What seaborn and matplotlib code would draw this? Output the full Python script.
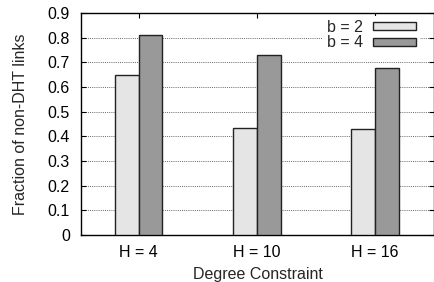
import matplotlib
matplotlib.use("Agg")
import matplotlib.pyplot as plt
import seaborn as sns
import pandas as pd

categories = ["H = 4", "H = 10", "H = 16"]
series_names = ["b = 2", "b = 4"]
b2_values = [0.65, 0.435, 0.43]
b4_values = [0.81, 0.73, 0.675]
yticks = [0, 0.1, 0.2, 0.3, 0.4, 0.5, 0.6, 0.7, 0.8, 0.9]
ytick_labels = ["0", "0.1", "0.2", "0.3", "0.4", "0.5", "0.6", "0.7", "0.8", "0.9"]

df = pd.DataFrame({
    "cat": categories * 2,
    "series": [series_names[0]] * 3 + [series_names[1]] * 3,
    "value": b2_values + b4_values,
})

sns.set_style("white")
plt.rcParams["font.family"] = ["Liberation Sans", "DejaVu Sans"]

FS = 11.5

fig = plt.figure(figsize=(4.35, 2.82), dpi=100)
ax = fig.add_axes([81 / 435, 1 - 235 / 282, (434 - 81) / 435, (235 - 13) / 282])

sns.barplot(data=df, x="cat", y="value", hue="series", order=categories,
            hue_order=series_names, palette=["#e5e5e5", "#999999"],
            width=0.4, edgecolor="#222222", linewidth=1.0, saturation=1,
            ax=ax, zorder=3)

ax.set_xlim(-0.49, 2.5)
ax.set_ylim(0, 0.9)
ax.set_yticks(yticks)
ax.set_yticklabels(ytick_labels)
ax.yaxis.grid(True, linestyle=(0, (1, 1.2)), color="#666666", linewidth=0.7)
ax.xaxis.grid(False)
ax.set_axisbelow(True)

for s in ax.spines.values():
    s.set_color("black")
    s.set_linewidth(1.0)

ax.tick_params(axis="both", direction="in", length=3.5, width=0.8,
               labelsize=FS, colors="black")
ax.tick_params(axis="x", top=True, bottom=True, pad=7)
ax.tick_params(axis="y", left=True, right=True, pad=8)

ax.set_xlabel("Degree Constraint", fontsize=FS, labelpad=5.5)
ax.set_ylabel("Fraction of non-DHT links", fontsize=FS, labelpad=14)

leg = ax.legend(loc="upper right", frameon=True, markerfirst=False,
                fontsize=FS, handlelength=2.7, handleheight=0.45,
                handletextpad=0.6, labelspacing=0.05, borderpad=0.25,
                fancybox=False, framealpha=1.0,
                bbox_to_anchor=(0.965, 0.995), borderaxespad=0.1)
leg.get_frame().set_facecolor("white")
leg.get_frame().set_edgecolor("none")

fig.savefig("out.png", dpi=100)
